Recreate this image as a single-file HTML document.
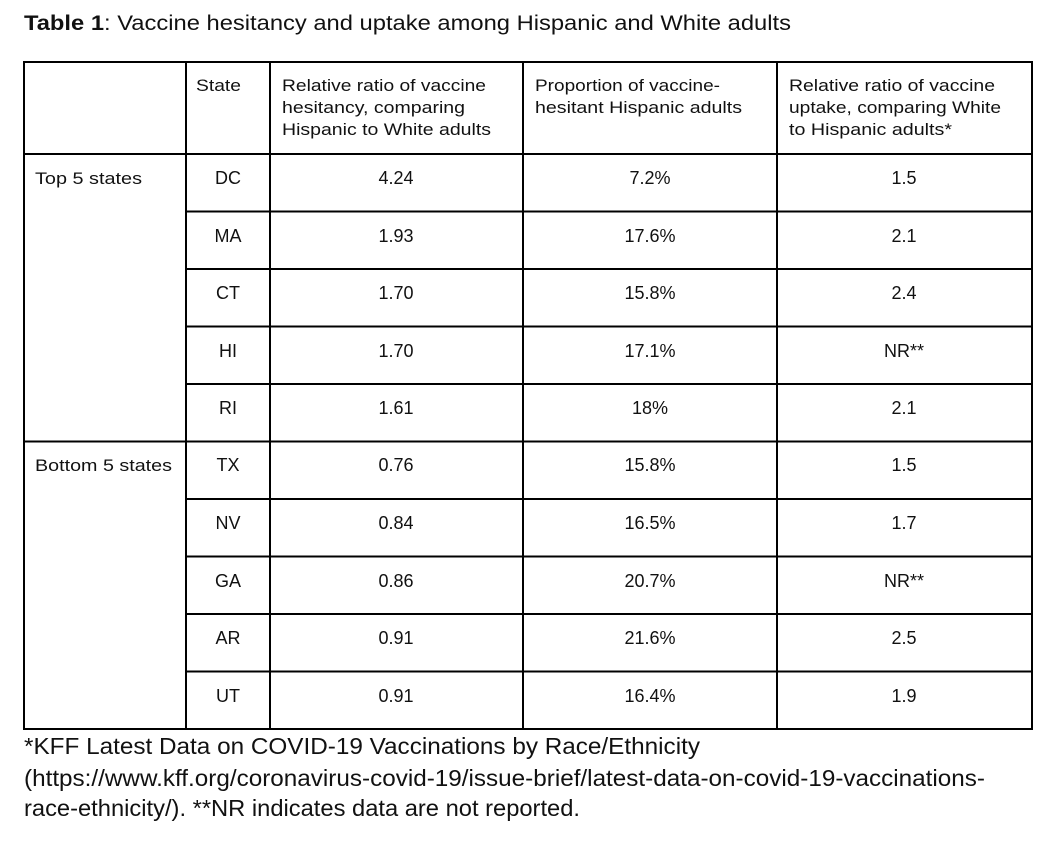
<!DOCTYPE html>
<html><head><meta charset="utf-8"><style>
html,body{margin:0;padding:0;background:#fff;}
svg text{font-family:"Liberation Sans",Arial,sans-serif;fill:#111;}
</style></head><body>
<svg width="1064" height="840" viewBox="0 0 1064 840" xmlns="http://www.w3.org/2000/svg">
<text x="24" y="30" font-size="21" textLength="767" lengthAdjust="spacingAndGlyphs"><tspan font-weight="bold">Table 1</tspan>: Vaccine hesitancy and uptake among Hispanic and White adults</text>
<g stroke="#000" stroke-width="2" fill="none">
<rect x="24" y="62" width="1008" height="667"/>
<line x1="186" y1="62" x2="186" y2="729"/>
<line x1="270" y1="62" x2="270" y2="729"/>
<line x1="523" y1="62" x2="523" y2="729"/>
<line x1="777" y1="62" x2="777" y2="729"/>
<line x1="24" y1="154" x2="1032" y2="154"/>
<line x1="24" y1="441.5" x2="1032" y2="441.5"/>
<line x1="186" y1="211.5" x2="1032" y2="211.5"/>
<line x1="186" y1="269" x2="1032" y2="269"/>
<line x1="186" y1="326.5" x2="1032" y2="326.5"/>
<line x1="186" y1="384" x2="1032" y2="384"/>
<line x1="186" y1="499" x2="1032" y2="499"/>
<line x1="186" y1="556.5" x2="1032" y2="556.5"/>
<line x1="186" y1="614" x2="1032" y2="614"/>
<line x1="186" y1="671.5" x2="1032" y2="671.5"/>
</g>
<g font-size="17">
<text x="196" y="91" textLength="45" lengthAdjust="spacingAndGlyphs">State</text>
<text x="282" y="91" textLength="204" lengthAdjust="spacingAndGlyphs">Relative ratio of vaccine</text>
<text x="282" y="113" textLength="183" lengthAdjust="spacingAndGlyphs">hesitancy, comparing</text>
<text x="282" y="135" textLength="209" lengthAdjust="spacingAndGlyphs">Hispanic to White adults</text>
<text x="535" y="91" textLength="185" lengthAdjust="spacingAndGlyphs">Proportion of vaccine-</text>
<text x="535" y="113" textLength="207" lengthAdjust="spacingAndGlyphs">hesitant Hispanic adults</text>
<text x="789" y="91" textLength="206" lengthAdjust="spacingAndGlyphs">Relative ratio of vaccine</text>
<text x="789" y="113" textLength="212" lengthAdjust="spacingAndGlyphs">uptake, comparing White</text>
<text x="789" y="135" textLength="163" lengthAdjust="spacingAndGlyphs">to Hispanic adults*</text>
<text x="35" y="184" textLength="107" lengthAdjust="spacingAndGlyphs">Top 5 states</text>
<text x="35" y="471" textLength="137" lengthAdjust="spacingAndGlyphs">Bottom 5 states</text>
</g>
<g font-size="18" text-anchor="middle">
<text x="228" y="184">DC</text><text x="396" y="184">4.24</text><text x="650" y="184">7.2%</text><text x="904" y="184">1.5</text>
<text x="228" y="242">MA</text><text x="396" y="242">1.93</text><text x="650" y="242">17.6%</text><text x="904" y="242">2.1</text>
<text x="228" y="299">CT</text><text x="396" y="299">1.70</text><text x="650" y="299">15.8%</text><text x="904" y="299">2.4</text>
<text x="228" y="357">HI</text><text x="396" y="357">1.70</text><text x="650" y="357">17.1%</text><text x="904" y="357">NR**</text>
<text x="228" y="414">RI</text><text x="396" y="414">1.61</text><text x="650" y="414">18%</text><text x="904" y="414">2.1</text>
<text x="228" y="471">TX</text><text x="396" y="471">0.76</text><text x="650" y="471">15.8%</text><text x="904" y="471">1.5</text>
<text x="228" y="529">NV</text><text x="396" y="529">0.84</text><text x="650" y="529">16.5%</text><text x="904" y="529">1.7</text>
<text x="228" y="587">GA</text><text x="396" y="587">0.86</text><text x="650" y="587">20.7%</text><text x="904" y="587">NR**</text>
<text x="228" y="644">AR</text><text x="396" y="644">0.91</text><text x="650" y="644">21.6%</text><text x="904" y="644">2.5</text>
<text x="228" y="702">UT</text><text x="396" y="702">0.91</text><text x="650" y="702">16.4%</text><text x="904" y="702">1.9</text>
</g>
<g font-size="23">
<text x="24" y="754" textLength="676" lengthAdjust="spacingAndGlyphs">*KFF Latest Data on COVID-19 Vaccinations by Race/Ethnicity</text>
<text x="24" y="786" textLength="961" lengthAdjust="spacingAndGlyphs">(https://www.kff.org/coronavirus-covid-19/issue-brief/latest-data-on-covid-19-vaccinations-</text>
<text x="24" y="816" textLength="556" lengthAdjust="spacingAndGlyphs">race-ethnicity/). **NR indicates data are not reported.</text>
</g>
</svg>
</body></html>
